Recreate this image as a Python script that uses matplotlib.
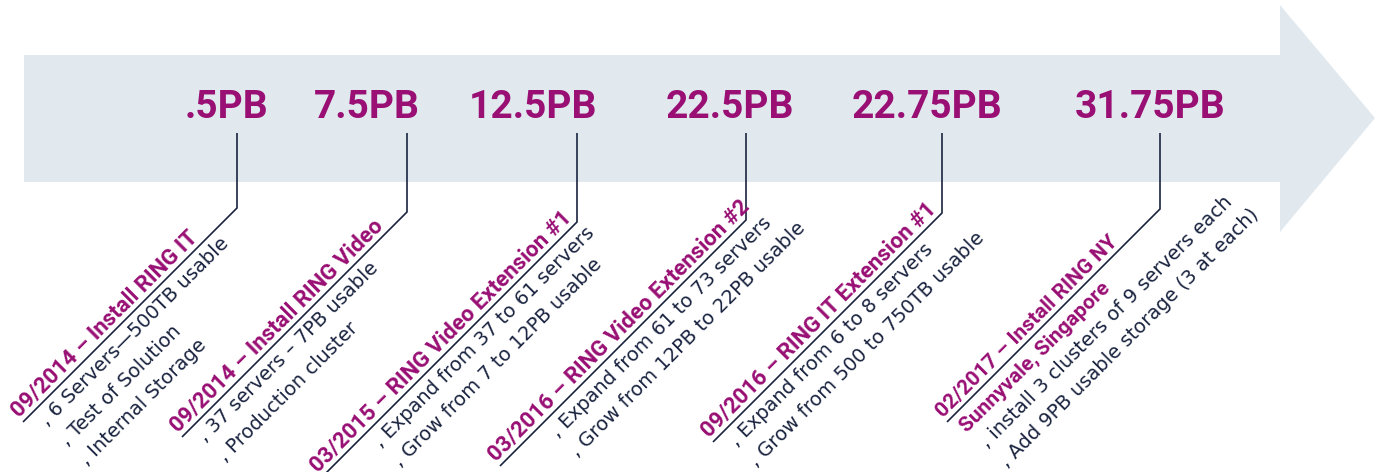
import numpy as np
import matplotlib
matplotlib.use("Agg")
import matplotlib.pyplot as plt
from matplotlib.patches import Polygon

# ---- data ----
capacities = [".5PB", "7.5PB", "12.5PB", "22.5PB", "22.75PB", "31.75PB"]
titles = [
    ["09/2014 – Install RING IT"],
    ["09/2014 – Install RING Video"],
    ["03/2015 – RING Video Extension #1"],
    ["03/2016 – RING Video Extension #2"],
    ["09/2016 – RING IT Extension #1"],
    ["02/2017 – Install RING NY", "Sunnyvale, Singapore"],
]
bullets = [
    ["6 Servers—500TB usable", "Test of Solution", "Internal Storage"],
    ["37 servers – 7PB usable", "Production cluster"],
    ["Expand from 37 to 61 servers", "Grow from 7 to 12PB usable"],
    ["Expand from 61 to 73 servers", "Grow from 12PB to 22PB usable"],
    ["Expand from 6 to 8 servers", "Grow from 500 to 750TB usable"],
    ["install 3 clusters of 9 servers each", "Add 9PB usable storage (3 at each)"],
]

# ---- layout (pixels) ----
line_x = [237, 407, 577, 746, 942, 1160]
bend_y = [208, 212, 222, 220, 213, 209]
diag_len = [214, 225, 255, 246, 229, 213]
label_x = [226, 367, 533, 730, 927, 1150]
bullet_a = [14, 13, 62, 61, 13, 10]

MAGENTA = "#990F74"
NAVY = "#1A2440"
ARROW = "#E1E9EF"

W, H = 1377, 472
fig = plt.figure(figsize=(W / 100, H / 100), dpi=100)
ax = fig.add_axes([0, 0, 1, 1])
ax.set_xlim(0, W)
ax.set_ylim(H, 0)
ax.axis("off")

arrow = Polygon([(24, 55), (1280, 55), (1280, 5), (1375, 118), (1280, 232),
                 (1280, 182), (24, 182)], closed=True, fc=ARROW, ec="none", zorder=0)
ax.add_patch(arrow)

s2 = np.sqrt(2) / 2


def pt(x0, y0, a, p):
    # a: along the diagonal (up-right), p: perpendicular (down-right positive)
    return x0 + a * s2 + p * s2, y0 - a * s2 + p * s2


for i in range(len(capacities)):
    x = line_x[i]
    yb = bend_y[i]
    L = diag_len[i]
    xe, ye = x - L, yb + L
    ax.plot([x, x, xe], [133, yb, ye], color=NAVY, lw=1.2, solid_joinstyle="miter",
            solid_capstyle="butt", zorder=2)
    ax.text(label_x[i], 118, capacities[i], ha="center", va="baseline",
            fontsize=28, fontweight="bold", family="Roboto", color=MAGENTA)
    # title lines
    tl = titles[i]
    tsize = 16 if len(tl) == 1 else 15
    tx, ty = pt(xe, ye, 0, -5)
    ax.text(tx, ty, tl[0], rotation=45, rotation_mode="anchor", ha="left",
            va="baseline", fontsize=tsize, fontweight="bold", family="Roboto",
            color=MAGENTA)
    p = 21
    for extra in tl[1:]:
        tx, ty = pt(xe, ye, 6, 22)
        ax.text(tx, ty, extra, rotation=45, rotation_mode="anchor", ha="left",
                va="baseline", fontsize=tsize, fontweight="bold", family="Roboto",
                color=MAGENTA)
        p += 26
    for b in bullets[i]:
        bx, by = pt(xe, ye, bullet_a[i], p)
        ax.text(bx, by, ", " + b, rotation=45, rotation_mode="anchor", ha="left",
                va="baseline", fontsize=14, family="DejaVu Sans", color=NAVY)
        p += 28

fig.savefig("out.png", dpi=100, facecolor="white")
